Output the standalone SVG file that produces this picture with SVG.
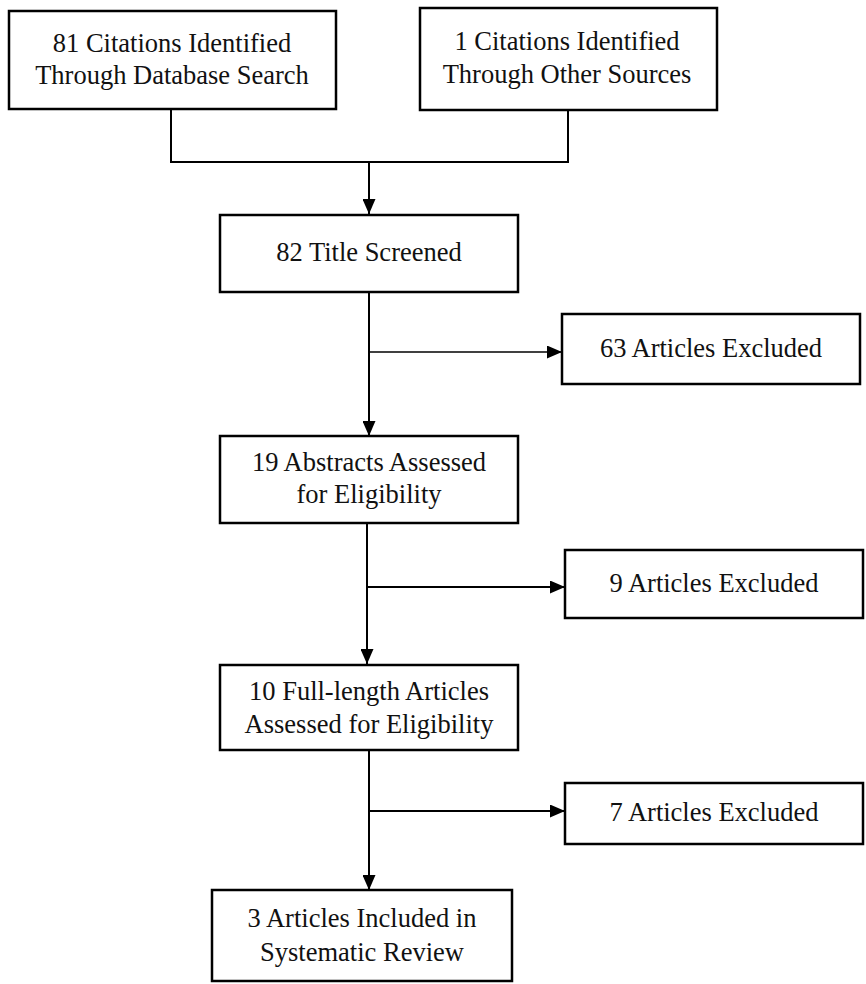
<svg xmlns="http://www.w3.org/2000/svg" width="866" height="984" viewBox="0 0 866 984">
<style>
.box{fill:#fff;stroke:#000;stroke-width:2.5}
.t{font-family:"Liberation Serif","Times New Roman",serif;font-size:26.5px;fill:#111;text-anchor:middle}
.c{fill:none;stroke:#000;stroke-width:2}
</style>
<defs>
<marker id="ah" markerWidth="15" markerHeight="13" refX="15" refY="6.5" orient="auto" markerUnits="userSpaceOnUse">
<path d="M0,0 L15,6.5 L0,13 Z" fill="#000"/>
</marker>
</defs>
<g id="connectors">
<path class="c" d="M171,110 V162 H568 V111"/>
<path class="c" d="M369,162 V214" marker-end="url(#ah)"/>
<path class="c" d="M369,293 V436" marker-end="url(#ah)"/>
<path class="c" d="M369,352 H562" marker-end="url(#ah)" style="stroke-width:1.5"/>
<path class="c" d="M367,524 V664" marker-end="url(#ah)"/>
<path class="c" d="M367,587 H565" marker-end="url(#ah)"/>
<path class="c" d="M369,750 V890" marker-end="url(#ah)"/>
<path class="c" d="M369,811 H565" marker-end="url(#ah)"/>
</g>
<g id="n1"><rect class="box" x="9" y="11" width="327" height="98"/>
<text class="t" x="172" y="52">81 Citations Identified</text><text class="t" x="172" y="84">Through Database Search</text></g>
<g id="n2"><rect class="box" x="420" y="8" width="297" height="102"/>
<text class="t" x="567" y="50">1 Citations Identified</text><text class="t" x="567" y="83">Through Other Sources</text></g>
<g id="n3"><rect class="box" x="220" y="215" width="298" height="77"/>
<text class="t" x="369" y="261">82 Title Screened</text></g>
<g id="n4"><rect class="box" x="562" y="314" width="298" height="70"/>
<text class="t" x="711" y="357">63 Articles Excluded</text></g>
<g id="n5"><rect class="box" x="220" y="436" width="298" height="87"/>
<text class="t" x="369" y="471">19 Abstracts Assessed</text><text class="t" x="369" y="503">for Eligibility</text></g>
<g id="n6"><rect class="box" x="565" y="550" width="298" height="68"/>
<text class="t" x="714" y="592">9 Articles Excluded</text></g>
<g id="n7"><rect class="box" x="220" y="665" width="298" height="85"/>
<text class="t" x="369" y="700">10 Full-length Articles</text><text class="t" x="369" y="733">Assessed for Eligibility</text></g>
<g id="n8"><rect class="box" x="565" y="783" width="298" height="61"/>
<text class="t" x="714" y="821">7 Articles Excluded</text></g>
<g id="n9"><rect class="box" x="212" y="890" width="300" height="91"/>
<text class="t" x="362" y="927">3 Articles Included in</text><text class="t" x="362" y="961">Systematic Review</text></g>
</svg>
